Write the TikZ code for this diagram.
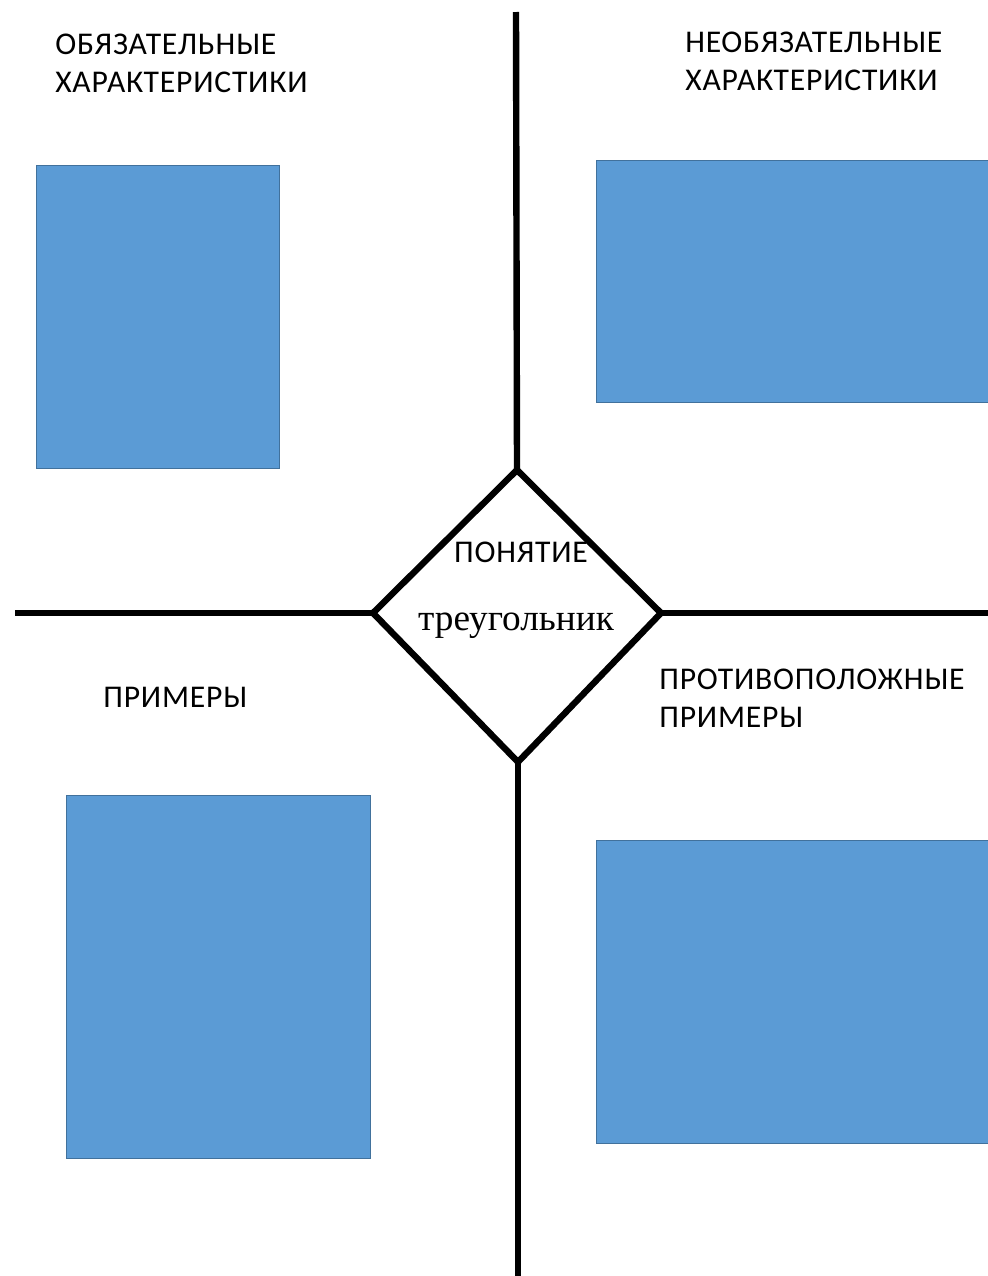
\documentclass[tikz,border=0pt]{standalone}
\usepackage{fontspec}
\setmainfont{Carlito}[LetterSpace=2.5]
\newfontfamily\termfont{Liberation Serif}
\usetikzlibrary{positioning}
\definecolor{cardfill}{HTML}{5B9BD5}
\definecolor{cardline}{HTML}{41719C}

\begin{document}
\begin{tikzpicture}[x=0.025cm,y=-0.025cm]
  \tikzset{axis/.style = {line width=0.16cm, line join=miter},
    card/.style = {rectangle, fill=cardfill, draw=cardline, line width=0.6pt, inner sep=0pt},
    label/.style = {anchor=west, inner sep=0pt, align=left, font=\fontsize{22.5}{27}\selectfont},
    termlabel/.style = {inner sep=0pt, font=\termfont\fontsize{26.5}{30}\selectfont}}
\useasboundingbox (0,0) rectangle (987,1276);
%
\coordinate (dtop) at (517,470);
\coordinate (dleft) at (373,613);
\coordinate (dright) at (661,613);
\coordinate (dbot) at (518,762);
\coordinate (etop) at (516,12);
\coordinate (eleft) at (15,613);
\coordinate (eright) at (990,613);
\coordinate (ebot) at (518,1280);
%
\node[card,minimum width=6.075cm,minimum height=7.575cm] (must) at (157.5,316.5) {};
\node[card,minimum width=9.85cm,minimum height=6.05cm] (may) at (793,281) {};
\node[card,minimum width=7.6cm,minimum height=9.075cm] (ex) at (218,976.5) {};
\node[card,minimum width=9.85cm,minimum height=7.575cm] (nonex) at (793,991.5) {};
%
\node[label] (mustlbl) at (55,63) {ОБЯЗАТЕЛЬНЫЕ\\ХАРАКТЕРИСТИКИ};
\node[label] (maylbl) at (685,61) {НЕОБЯЗАТЕЛЬНЫЕ\\ХАРАКТЕРИСТИКИ};
\node[label] (exlbl) at (103,697) {ПРИМЕРЫ};
\node[label] (nonexlbl) at (659,698) {ПРОТИВОПОЛОЖНЫЕ\\ПРИМЕРЫ};
\node[label,anchor=center] (concept) at (521,552) {ПОНЯТИЕ};
\node[termlabel] (term) at (516,626) {треугольник};
%
\draw[axis] (dtop) -- (dright) -- (dbot) -- (dleft) -- cycle;
\draw[axis] (etop) -- (dtop);
\draw[axis] (eleft) -- (dleft);
\draw[axis] (dright) -- (eright);
\draw[axis] (dbot) -- (ebot);
\end{tikzpicture}
\end{document}
